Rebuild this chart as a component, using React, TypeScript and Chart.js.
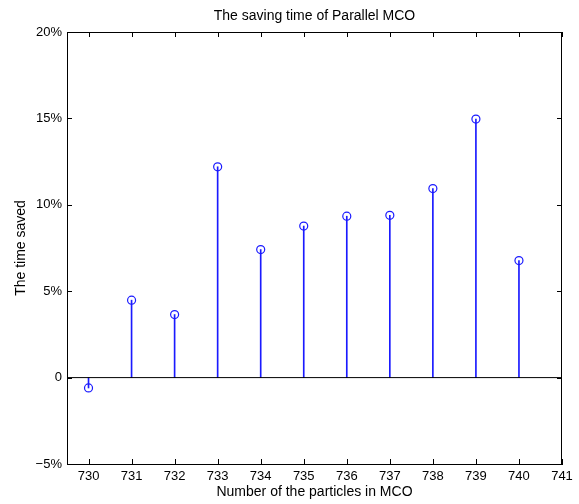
import React, { useEffect, useRef } from "react";
import { Chart, registerables } from "chart.js";

Chart.register(...registerables);

const particles = [730, 731, 732, 733, 734, 735, 736, 737, 738, 739, 740];
const timeSaved = [-0.6, 4.48, 3.65, 12.2, 7.41, 8.77, 9.34, 9.39, 10.94, 14.96, 6.77];
const xTicks = [730, 731, 732, 733, 734, 735, 736, 737, 738, 739, 740, 741];
const yTicks = [-5, 0, 5, 10, 15, 20];
const xMin = 729.5;
const xMax = 741;
const yMin = -5;
const yMax = 20;

const FONT = '"Liberation Sans", Arial, Helvetica, sans-serif';
const STEM_COLOR = "#1a1aff";

const boxTicksPlugin = {
  id: "boxTicks",
  afterDatasetsDraw(chart: any) {
    const { ctx, chartArea, scales } = chart;
    const { left, right, top, bottom } = chartArea;
    const len = 5;
    ctx.save();
    ctx.strokeStyle = "#000";
    ctx.lineWidth = 1;
    ctx.beginPath();
    ctx.moveTo(left, top + 0.5);
    ctx.lineTo(right, top + 0.5);
    ctx.moveTo(right - 0.5, top);
    ctx.lineTo(right - 0.5, bottom);
    for (const t of scales.x.ticks) {
      const px = Math.round(scales.x.getPixelForValue(t.value)) + 0.5;
      ctx.moveTo(px, bottom);
      ctx.lineTo(px, bottom - len);
      ctx.moveTo(px, top);
      ctx.lineTo(px, top + len);
    }
    for (const t of scales.y.ticks) {
      const py = Math.round(scales.y.getPixelForValue(t.value)) + 0.5;
      ctx.moveTo(left, py);
      ctx.lineTo(left + len, py);
      ctx.moveTo(right, py);
      ctx.lineTo(right - len, py);
    }
    ctx.stroke();
    ctx.restore();
  },
};

export default function App() {
  const ref = useRef<HTMLCanvasElement | null>(null);

  useEffect(() => {
    if (!ref.current) return;
    const points = particles.map((p, i) => ({ x: p, y: timeSaved[i] }));
    const chart = new Chart(ref.current, {
      type: "bar",
      data: {
        datasets: [
          {
            type: "bar",
            data: points,
            backgroundColor: STEM_COLOR,
            borderWidth: 0,
            barThickness: 1,
            order: 3,
          } as any,
          {
            type: "line",
            data: [
              { x: xMin, y: 0 },
              { x: xMax, y: 0 },
            ],
            borderColor: "#000",
            borderWidth: 1,
            pointRadius: 0,
            order: 2,
          } as any,
          {
            type: "scatter",
            data: points,
            pointStyle: "circle",
            pointRadius: 4,
            pointBorderWidth: 1.2,
            pointBorderColor: STEM_COLOR,
            pointBackgroundColor: "rgba(0,0,0,0)",
            showLine: false,
            order: 1,
          } as any,
        ],
      },
      options: {
        responsive: false,
        animation: false,
        layout: { padding: { top: 0, right: 17, bottom: 0, left: 0 } },
        plugins: {
          legend: { display: false },
          tooltip: { enabled: false },
          title: {
            display: true,
            text: "The saving time of Parallel MCO",
            color: "#000",
            fullSize: false,
            font: { family: FONT, size: 14, weight: "normal" },
            padding: { top: 8, bottom: 7.2 },
          },
        },
        scales: {
          x: {
            type: "linear",
            min: xMin,
            max: xMax,
            offset: false,
            afterBuildTicks: (s: any) => {
              s.ticks = xTicks.map((v) => ({ value: v }));
            },
            afterFit: (s: any) => {
              s.height = 40;
            },
            grid: { display: false, drawTicks: false },
            border: { display: true, color: "#000", width: 1 },
            ticks: {
              color: "#000",
              padding: 5,
              maxRotation: 0,
              autoSkip: false,
              font: { family: FONT, size: 13 },
              callback: (v: any) => String(v),
            },
            title: {
              display: true,
              text: "Number of the particles in MCO",
              color: "#000",
              font: { family: FONT, size: 14 },
              padding: { top: 0, bottom: 3 },
            },
          },
          y: {
            type: "linear",
            min: yMin,
            max: yMax,
            afterBuildTicks: (s: any) => {
              s.ticks = yTicks.map((v) => ({ value: v }));
            },
            afterFit: (s: any) => {
              s.width = 67;
            },
            grid: { display: false, drawTicks: false },
            border: { display: true, color: "#000", width: 1 },
            ticks: {
              color: "#000",
              padding: 5,
              font: { family: FONT, size: 13 },
              callback: (v: any) => (v === 0 ? "0" : (v < 0 ? "\u2212" + Math.abs(v) : String(v)) + "%"),
            },
            title: {
              display: true,
              text: "The time saved",
              color: "#000",
              font: { family: FONT, size: 14 },
              padding: { top: 12.6, bottom: 0 },
            },
          },
        },
      } as any,
      plugins: [boxTicksPlugin],
    });
    return () => chart.destroy();
  }, []);

  return (
    <div style={{ position: "absolute", left: 0, top: 0, width: 579, height: 504, background: "#fff" }}>
      <canvas ref={ref} width={579} height={504} style={{ display: "block" }} />
    </div>
  );
}
